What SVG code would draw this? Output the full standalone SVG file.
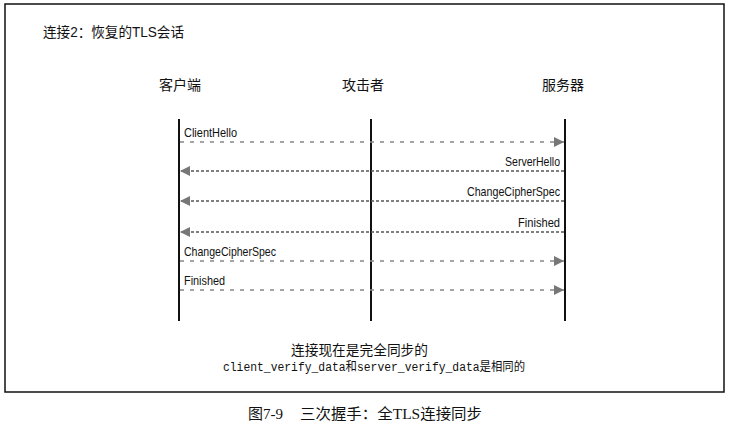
<svg xmlns="http://www.w3.org/2000/svg" width="733" height="433" viewBox="0 0 733 433">
<style>
.cjk{font-family:"Liberation Sans","Noto Sans CJK SC",sans-serif;font-size:14px;fill:#111}
.lbl{font-family:"Liberation Sans Narrow","Liberation Sans",sans-serif;font-size:13px;fill:#111}
.life{stroke:#111;stroke-width:2}
.r{stroke:#888;stroke-width:1.5;stroke-dasharray:4 6;fill:none}
.l{stroke:#555;stroke-width:1.5;stroke-dasharray:3 2;fill:none}
.mono{font-family:"Liberation Mono","Noto Sans CJK SC",monospace;font-size:12.5px;fill:#111}
.cap{font-family:"Liberation Serif","Noto Sans CJK SC",serif;font-size:15px;fill:#111}
</style>
<defs>
<marker id="ah" viewBox="0 0 10 10" refX="10" refY="5" markerWidth="10" markerHeight="10" markerUnits="userSpaceOnUse" orient="auto">
<path d="M0,0 L10,5 L0,10 Z" fill="#777"/>
</marker>
</defs>
<rect x="5" y="4" width="719" height="388" fill="none" stroke="#111" stroke-width="1.5"/>
<text class="cjk" x="43" y="37" textLength="141" lengthAdjust="spacingAndGlyphs">连接2：恢复的TLS会话</text>
<g id="client"><text class="cjk" x="180" y="90" text-anchor="middle">客户端</text><line class="life" x1="179" y1="119" x2="179" y2="321"/></g>
<g id="attacker"><text class="cjk" x="363" y="90" text-anchor="middle">攻击者</text><line class="life" x1="371" y1="119" x2="371" y2="321"/></g>
<g id="server"><text class="cjk" x="563" y="90" text-anchor="middle">服务器</text><line class="life" x1="565" y1="119" x2="565" y2="321"/></g>
<g id="connectors">
<line class="r" x1="180" y1="142" x2="564" y2="142" marker-end="url(#ah)"/>
<text class="lbl" x="184" y="137" textLength="53" lengthAdjust="spacingAndGlyphs">ClientHello</text>
<line class="l" x1="564" y1="171" x2="180" y2="171" marker-end="url(#ah)"/>
<text class="lbl" x="505" y="166" textLength="55" lengthAdjust="spacingAndGlyphs">ServerHello</text>
<line class="l" x1="564" y1="201" x2="180" y2="201" marker-end="url(#ah)"/>
<text class="lbl" x="467" y="196" textLength="93" lengthAdjust="spacingAndGlyphs">ChangeCipherSpec</text>
<line class="l" x1="564" y1="232" x2="180" y2="232" marker-end="url(#ah)"/>
<text class="lbl" x="518" y="227" textLength="42" lengthAdjust="spacingAndGlyphs">Finished</text>
<line class="r" x1="180" y1="261" x2="564" y2="261" marker-end="url(#ah)"/>
<text class="lbl" x="184" y="256" textLength="92" lengthAdjust="spacingAndGlyphs">ChangeCipherSpec</text>
<line class="r" x1="180" y1="290" x2="564" y2="290" marker-end="url(#ah)"/>
<text class="lbl" x="184" y="285" textLength="41" lengthAdjust="spacingAndGlyphs">Finished</text>
</g>
<text class="cjk" x="291" y="355" textLength="137" lengthAdjust="spacingAndGlyphs">连接现在是完全同步的</text>
<text class="mono" x="223" y="371" textLength="302" lengthAdjust="spacingAndGlyphs">client_verify_data和server_verify_data是相同的</text>
<text class="cap" x="248" y="419">图7-9</text>
<text class="cap" x="300" y="419" textLength="182" lengthAdjust="spacingAndGlyphs">三次握手：全TLS连接同步</text>
</svg>
